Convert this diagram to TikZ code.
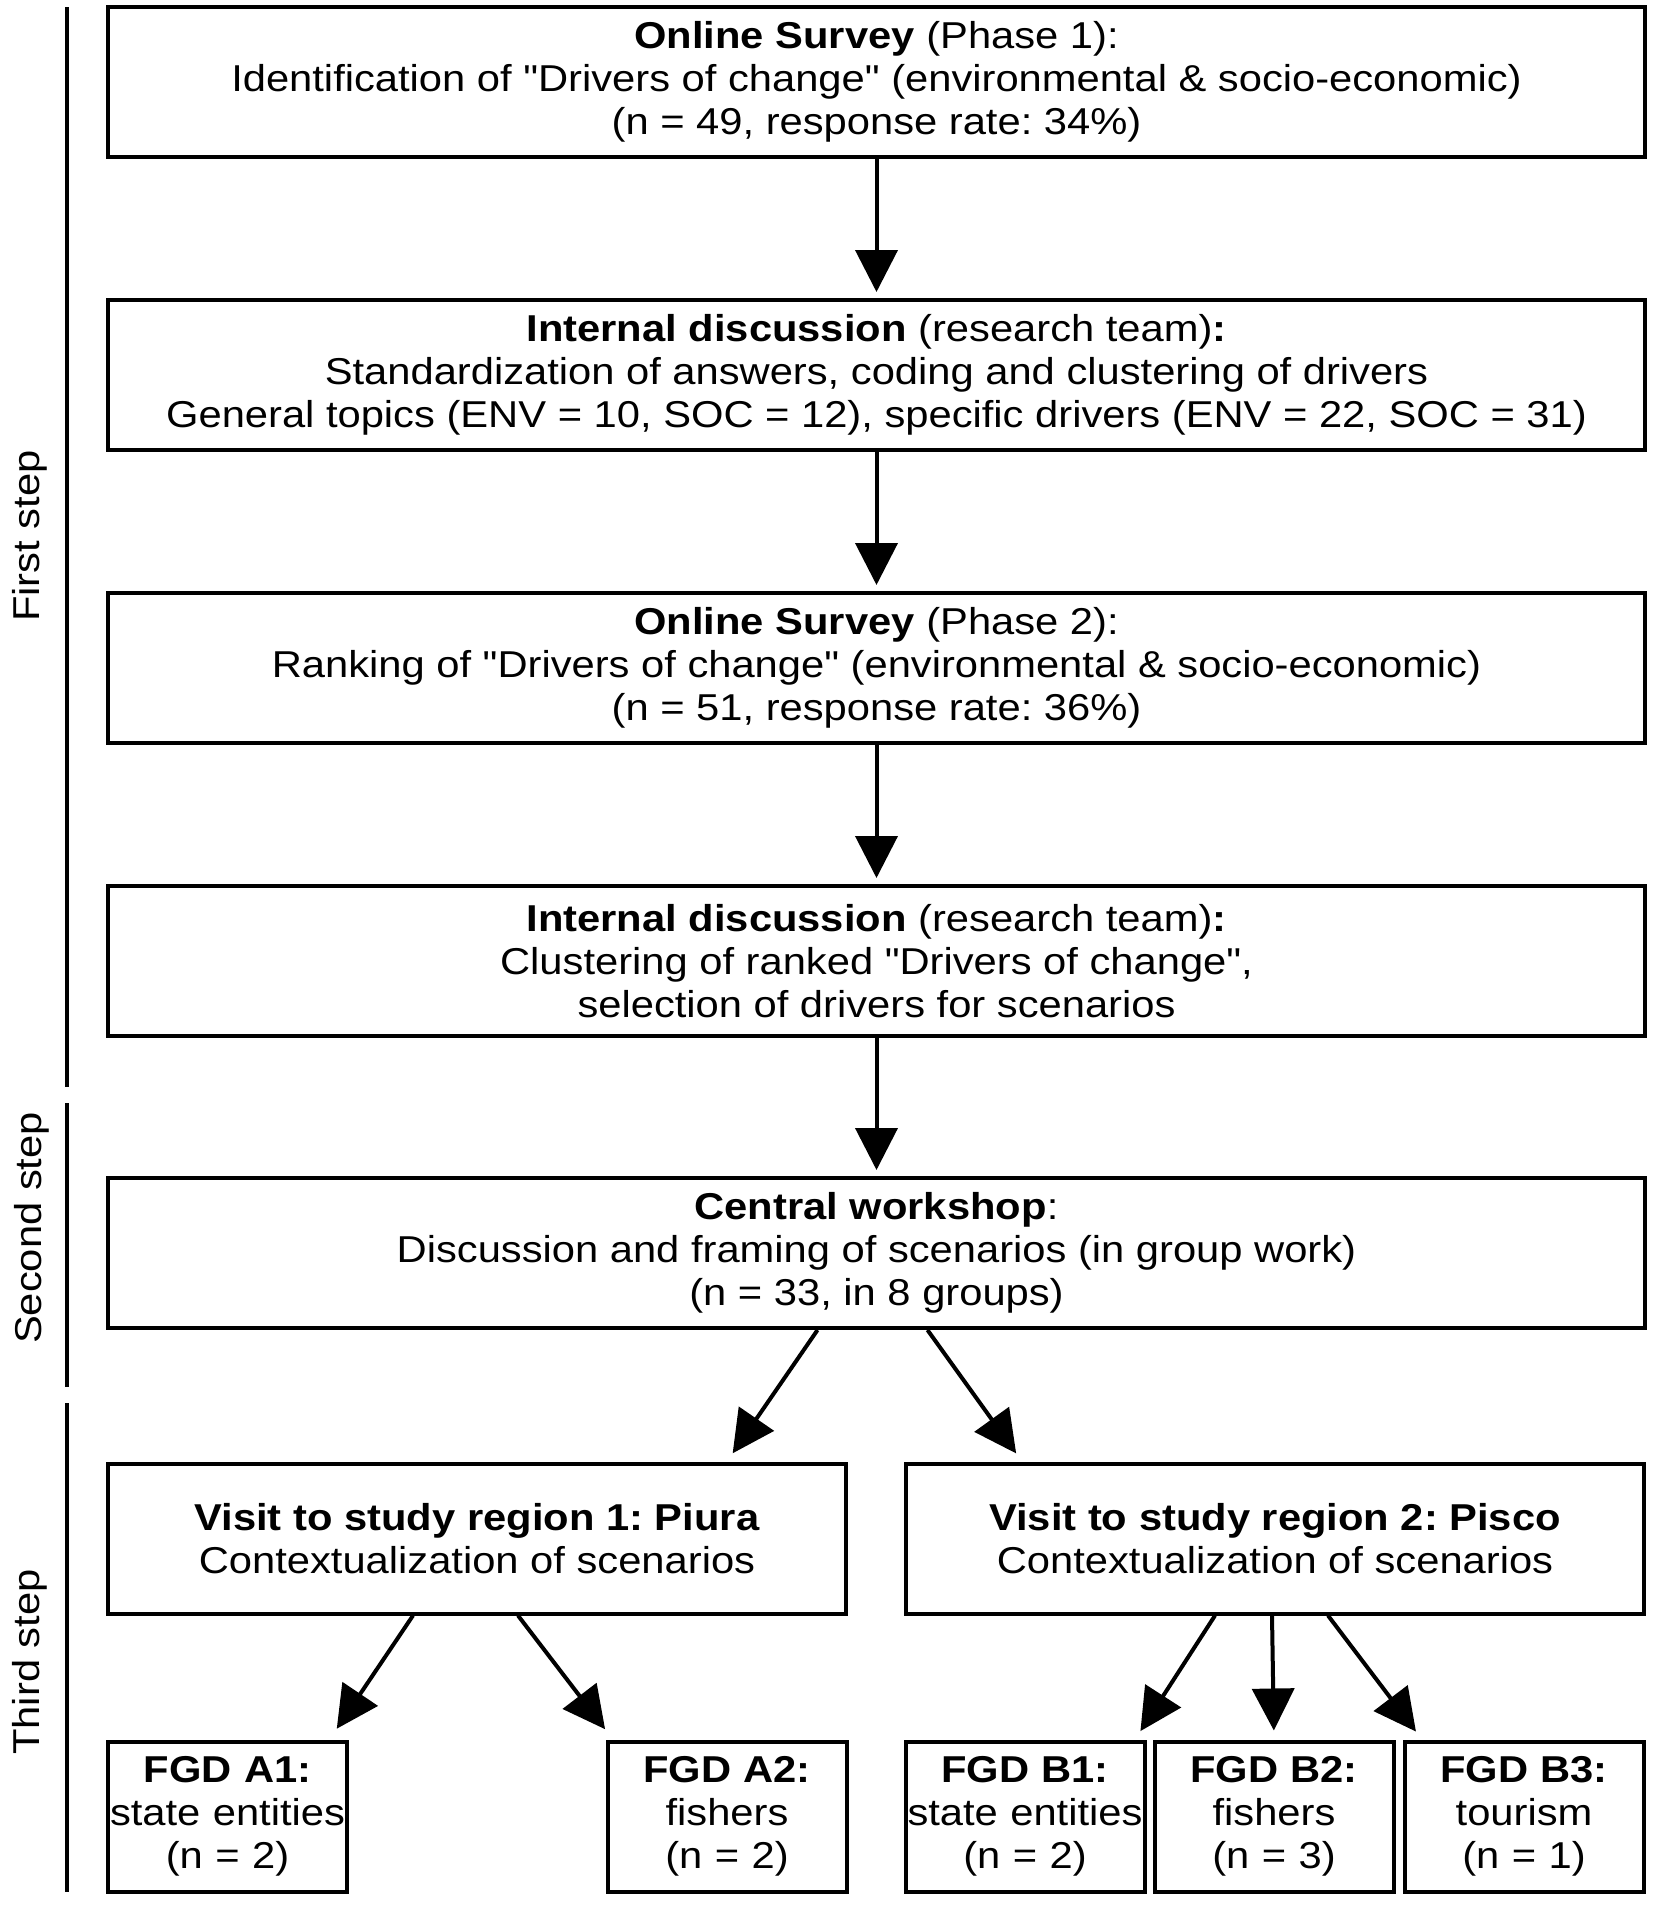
\documentclass[tikz,border=0pt]{standalone}
\usepackage{fontspec}
\newfontfamily\arialish{Liberation Sans}[FakeStretch=1.115]
\usetikzlibrary{arrows.meta}

\begin{document}
\begin{tikzpicture}[x=0.5pt, y=-0.5pt, line width=2pt,
		>={Triangle[length=21pt,width=21pt]},
		font=\arialish\fontsize{18.7}{21.5}\selectfont\frenchspacing,
		box/.style={draw, inner sep=0pt, align=center, minimum height=75pt},
		wide/.style={box, minimum width=768.5pt},
		half/.style={box, minimum width=369pt},
		fgd/.style={box, text width=119.5pt}]
	\useasboundingbox (0,0) rectangle (1654,1907);
	% steps on the left
	\draw (67,7) -- (67,1087);
	\draw (67,1103) -- (67,1387);
	\draw (67,1403) -- (67,1892);
	\node[rotate=90] (first) at (30,536) {First step};
	\node[rotate=90] (second) at (32,1228) {Second step};
	\node[rotate=90] (third) at (30,1662) {Third step};
	% main column
	\node[wide] (s1) at (876.5,82) {\textbf{Online Survey} (Phase 1):\\Identification of "Drivers of change" (environmental \& socio-economic)\\(n = 49, response rate: 34\%)};
	\node[wide] (d1) at (876.5,375) {\textbf{Internal discussion} (research team)\textbf{:}\\Standardization of answers, coding and clustering of drivers\\General topics (ENV = 10, SOC = 12), specific drivers (ENV = 22, SOC = 31)};
	\node[wide] (s2) at (876.5,668) {\textbf{Online Survey} (Phase 2):\\Ranking of "Drivers of change" (environmental \& socio-economic)\\(n = 51, response rate: 36\%)};
	\node[wide] (d2) at (876.5,961) {\textbf{Internal discussion} (research team)\textbf{:}\\Clustering of ranked "Drivers of change",\\selection of drivers for scenarios};
	\node[wide] (cw) at (876.5,1253) {\textbf{Central workshop}:\\Discussion and framing of scenarios (in group work)\\(n = 33, in 8 groups)};
	% regions
	\node[half] (piura) at (477,1538.5) {\textbf{Visit to study region 1: Piura}\\Contextualization of scenarios};
	\node[half] (pisco) at (1275,1538.5) {\textbf{Visit to study region 2: Pisco}\\Contextualization of scenarios};
	% focus groups
	\node[fgd] (a1) at (227.5,1816.5) {\textbf{FGD A1:}\\state entities\\(n = 2)};
	\node[fgd] (a2) at (727,1816.5) {\textbf{FGD A2:}\\fishers\\(n = 2)};
	\node[fgd] (b1) at (1025,1816.5) {\textbf{FGD B1:}\\state entities\\(n = 2)};
	\node[fgd] (b2) at (1274,1816.5) {\textbf{FGD B2:}\\fishers\\(n = 3)};
	\node[fgd] (b3) at (1524,1816.5) {\textbf{FGD B3:}\\tourism\\(n = 1)};
	\draw[->, shorten >=3pt] (s1) to (d1);
	\draw[->, shorten >=3pt] (d1) to (s2);
	\draw[->, shorten >=3pt] (s2) to (d2);
	\draw[->, shorten >=3pt] (d2) to (cw);
	\draw[->, shorten >=5pt] ([xshift=-29.5pt]cw.south) to ([xshift=125pt]piura.north);
	\draw[->, shorten >=5pt] ([xshift=25.5pt]cw.south) to ([xshift=-126.5pt]pisco.north);
	\draw[->, shorten >=6.5pt] ([xshift=-32pt]piura.south) to ([xshift=51pt]a1.north);
	\draw[->, shorten >=6.5pt] ([xshift=20.5pt]piura.south) to ([xshift=-57pt]a2.north);
	\draw[->, shorten >=5pt] ([xshift=-30pt]pisco.south) to ([xshift=55pt]b1.north);
	\draw[->, shorten >=4.5pt] ([xshift=-1.5pt]pisco.south) to (b2.north);
	\draw[->, shorten >=5pt] ([xshift=26.5pt]pisco.south) to ([xshift=-51pt]b3.north);
\end{tikzpicture}
\end{document}
